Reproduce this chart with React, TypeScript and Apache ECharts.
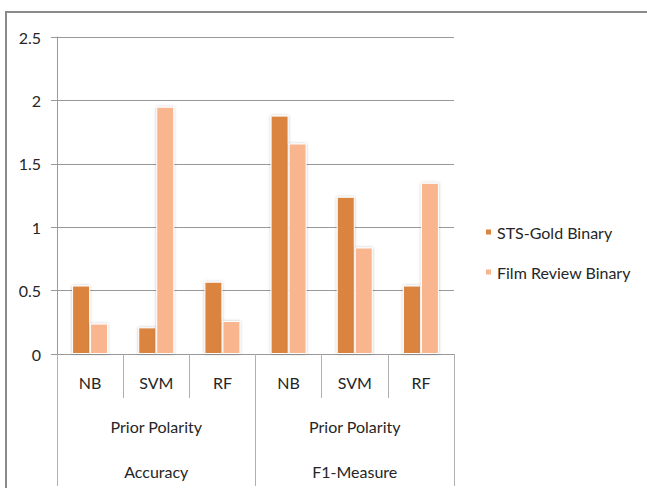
import React, { useEffect, useRef } from "react";
import * as echarts from "echarts";

const methods = ["NB", "SVM", "RF", "NB", "SVM", "RF"];
const features = ["Prior Polarity", "Prior Polarity"];
const metrics = ["Accuracy", "F1-Measure"];
const yTicks = [0, 0.5, 1, 1.5, 2, 2.5];

const seriesNames = ["STS-Gold Binary", "Film Review Binary"];
const stsGold = [0.54, 0.21, 0.57, 1.88, 1.24, 0.54];
const filmReview = [0.24, 1.95, 0.26, 1.66, 0.84, 1.35];

const FONT = "Lato, 'Open Sans', sans-serif";
const TEXT = "#262626";
const LINE = "#999999";

export default function App() {
  const ref = useRef<HTMLDivElement>(null);

  useEffect(() => {
    if (!ref.current) return;
    const chart = echarts.init(ref.current, undefined, { renderer: "svg" });

    const barStyle = (color: string) => ({
      color,
      borderColor: "#ffffff",
      borderWidth: 1,
      shadowBlur: 3,
      shadowColor: "rgba(0,0,0,0.25)",
    });

    chart.setOption({
      animation: false,
      backgroundColor: "#ffffff",
      textStyle: { fontFamily: FONT, color: TEXT },
      grid: { left: 57, right: 193, top: 37, bottom: 134, containLabel: false },
      legend: {
        orient: "vertical",
        left: 479,
        top: 219,
        itemWidth: 7,
        itemHeight: 7,
        itemGap: 24,
        icon: "rect",
        textStyle: { fontFamily: FONT, fontSize: 16, color: TEXT },
        data: seriesNames,
      },
      xAxis: [
        {
          type: "category",
          data: methods,
          axisLine: { show: true, lineStyle: { color: LINE, width: 1 } },
          axisTick: { show: true, interval: 0, length: 44, lineStyle: { color: "#b0b0b0" } },
          axisLabel: { interval: 0, margin: 20, fontSize: 16, color: TEXT, fontFamily: FONT },
          splitLine: { show: false },
        },
        {
          type: "category",
          data: features,
          position: "bottom",
          offset: 44,
          axisLine: { show: false },
          axisTick: { show: true, interval: 0, length: 44, lineStyle: { color: "#b0b0b0" } },
          axisLabel: { interval: 0, margin: 20, fontSize: 16, color: TEXT, fontFamily: FONT },
        },
        {
          type: "category",
          data: metrics,
          position: "bottom",
          offset: 88,
          axisLine: { show: false },
          axisTick: { show: true, interval: 0, length: 44, lineStyle: { color: "#b0b0b0" } },
          axisLabel: { interval: 0, margin: 21, fontSize: 16, color: TEXT, fontFamily: FONT },
        },
      ],
      yAxis: {
        type: "value",
        min: yTicks[0],
        max: yTicks[yTicks.length - 1],
        interval: 0.5,
        axisLine: { show: true, lineStyle: { color: LINE } },
        axisTick: { show: true, length: 6, lineStyle: { color: LINE } },
        axisLabel: { margin: 16, fontSize: 16, color: TEXT, fontFamily: FONT },
        splitLine: { show: true, lineStyle: { color: LINE, width: 1 } },
      },
      series: [
        {
          name: seriesNames[0],
          type: "bar",
          xAxisIndex: 0,
          data: stsGold,
          barWidth: 18,
          barGap: "0%",
          itemStyle: barStyle("#DA843F"),
        },
        {
          name: seriesNames[1],
          type: "bar",
          xAxisIndex: 0,
          data: filmReview,
          barWidth: 18,
          barGap: "0%",
          itemStyle: barStyle("#F8B58E"),
        },
      ],
      graphic: [
        {
          type: "rect",
          silent: true,
          z: -1,
          shape: { x: 6, y: 12, width: 700, height: 600 },
          style: { fill: "none", stroke: "#8a8a8a", lineWidth: 2 },
        },
      ],
    });

    return () => chart.dispose();
  }, []);

  return (
    <div
      ref={ref}
      style={{ position: "absolute", left: 0, top: 0, width: 647, height: 488 }}
    />
  );
}
